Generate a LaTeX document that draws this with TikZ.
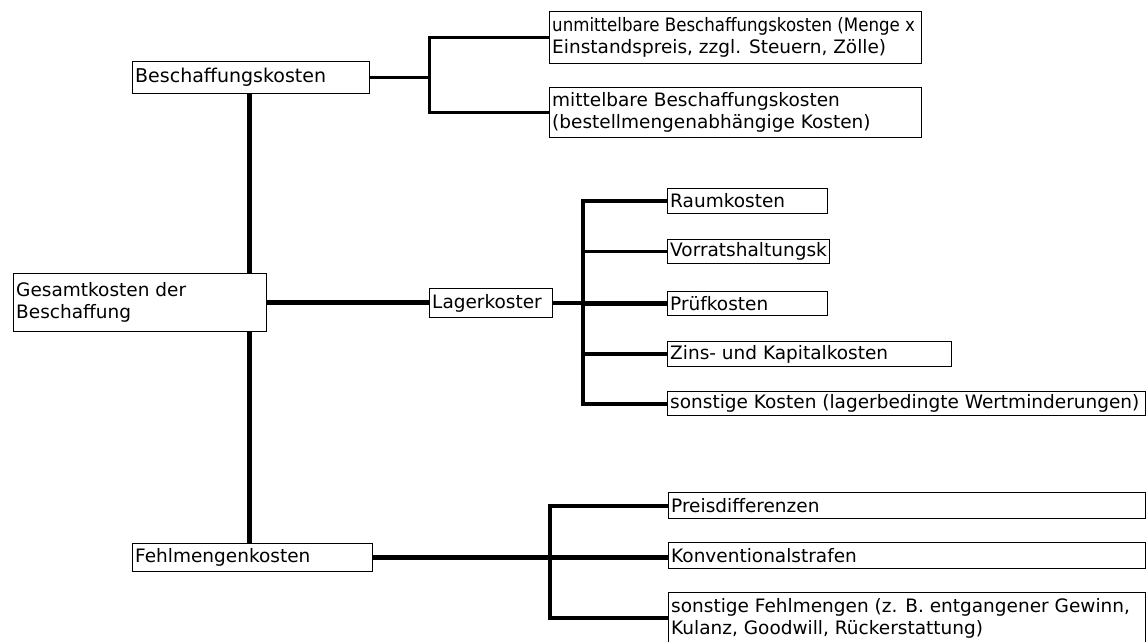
\documentclass[tikz,border=0pt]{standalone}
\usepackage{fontspec}
\setmainfont{DejaVu Sans}
% box: name, left, top, right, bottom, text
\newcommand\kbox[6]{%
  \node[box, minimum width={(#4-#2)*1pt}, minimum height={(#5-#3)*1pt}] (#1) at (#2,#3) {};
  \node[lbl] (#1-t) at (#1.west) {#6};}
\begin{document}
\begin{tikzpicture}[x=1pt,y=-1pt,
  box/.style={draw=black, line width=1pt, fill=white, inner sep=0pt, anchor=north west},
  lbl/.style={anchor=west, inner xsep=3pt, inner ysep=0pt, align=left,
              font=\fontsize{18.5}{22}\selectfont},
  conn/.style={line width=4pt, line join=miter},
  thinconn/.style={line width=3pt, line join=miter},
  heavyconn/.style={line width=5pt, line join=miter}]
\useasboundingbox (0,0) rectangle (1147,641);

% column positions of the trunk and the branch bars
\coordinate (xt) at (249,0);
\coordinate (xb) at (429,0);
\coordinate (xl) at (583,0);
\coordinate (xf) at (550,0);

% boxes
\kbox{bk}{132}{61}{369}{93}{\fontsize{19}{22}\selectfont Beschaffungskosten}
\kbox{u1}{549}{11}{921}{63}{\scalebox{0.9}[1]{unmittelbare Beschaffungskosten (Menge x}\\Einstandspreis, zzgl. Steuern, Zölle)}
\kbox{m1}{549}{87}{921}{137}{mittelbare Beschaffungskosten\\(bestellmengenabhängige Kosten)}
\kbox{gk}{13}{273}{266}{331}{Gesamtkosten der\\Beschaffung}
\kbox{lk}{429}{288}{552}{317}{Lagerkoster}
\kbox{r1}{667}{188}{827}{213}{Raumkosten}
\kbox{r2}{667}{239}{829}{263}{Vorratshaltungsk}
\kbox{r3}{667}{291}{827}{315}{Prüfkosten}
\kbox{r4}{667}{341}{951}{366}{Zins- und Kapitalkosten}
\kbox{r5}{667}{391}{1145}{415}{sonstige Kosten (lagerbedingte Wertminderungen)}
\kbox{fk}{132}{543}{372}{571}{Fehlmengenkosten}
\kbox{k1}{668}{492}{1145}{518}{Preisdifferenzen}
\kbox{k2}{668}{542}{1145}{568}{Konventionalstrafen}
\kbox{k3}{668}{592}{1145}{643}{sonstige Fehlmengen (z. B. entgangener Gewinn,\\Kulanz, Goodwill, Rückerstattung)}

% Beschaffungskosten branch
\draw[thinconn] (bk.east) -- (bk.east -| xb);
\draw[thinconn] (u1.west) -| (xb |- bk.east) |- (m1.west);

% main trunk
\draw[heavyconn] (xt |- bk.south) -- (xt |- gk.north);
\draw[heavyconn] (xt |- gk.south) -- (xt |- fk.north);
\draw[heavyconn] (gk.east) -- (gk.east -| lk.west);

% Lagerkosten branch
\draw[conn] (lk.east) -- (lk.east -| xl);
\draw[conn] (r1.west) -| (xl |- lk.east) |- (r5.west);
\draw[thinconn] (r2.west -| xl) -- (r2.west);
\draw[heavyconn] (r3.west -| xl) -- (r3.west);
\draw[conn] (r4.west -| xl) -- (r4.west);

% Fehlmengenkosten branch
\draw[heavyconn] (fk.east) -- (fk.east -| k2.west);
\draw[conn] (k1.west) -| (xf |- fk.east) |- (k3.west);
\end{tikzpicture}
\end{document}
